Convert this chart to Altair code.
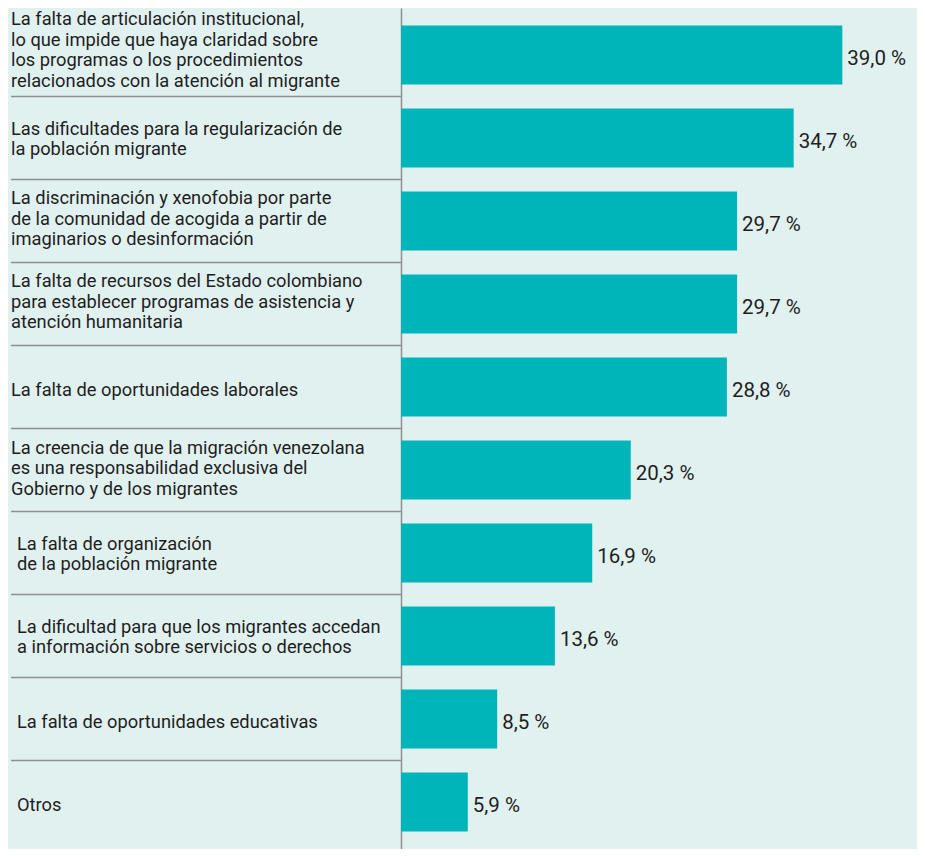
import altair as alt
import pandas as pd

labels = [
    "La falta de articulación institucional,\nlo que impide que haya claridad sobre\nlos programas o los procedimientos\nrelacionados con la atención al migrante",
    "Las dificultades para la regularización de\nla población migrante",
    "La discriminación y xenofobia por parte\nde la comunidad de acogida a partir de\nimaginarios o desinformación",
    "La falta de recursos del Estado colombiano\npara establecer programas de asistencia y\natención humanitaria",
    "La falta de oportunidades laborales",
    "La creencia de que la migración venezolana\nes una responsabilidad exclusiva del\nGobierno y de los migrantes",
    "La falta de organización\nde la población migrante",
    "La dificultad para que los migrantes accedan\na información sobre servicios o derechos",
    "La falta de oportunidades educativas",
    "Otros",
]
values = [39.0, 34.7, 29.7, 29.7, 28.8, 20.3, 16.9, 13.6, 8.5, 5.9]
value_text = ["39,0 %", "34,7 %", "29,7 %", "29,7 %", "28,8 %", "20,3 %", "16,9 %", "13,6 %", "8,5 %", "5,9 %"]
row_ids = [f"r{i}" for i in range(len(labels))]

df = pd.DataFrame({
    "row": row_ids,
    "label": labels,
    "value": values,
    "vtext": value_text,
    "idx": list(range(len(labels))),
    "nlines": [len(s.split("\n")) for s in labels],
})

FONT = "Roboto"
BG = "#e1f1f0"
BAR = "#00b5b9"
TXT = "#1e1e1e"
SEP = "#8c9090"
LH = 20.5

y_scale = alt.Scale(domain=row_ids, paddingInner=0, paddingOuter=0.066)
x_scale = alt.Scale(domain=[0, 45.6], nice=False, zero=True)

base = alt.Chart(df)

bars = base.mark_bar(color=BAR, height={"band": 59 / 83}).encode(
    y=alt.Y("row:N", scale=y_scale, sort=row_ids,
            axis=alt.Axis(labels=False, ticks=False, title=None, grid=False,
                          domainColor=SEP, domainWidth=1.5)),
    x=alt.X("value:Q", scale=x_scale, axis=None),
)

vals = base.mark_text(align="left", baseline="middle", dx=5, dy=4,
                      font=FONT, fontSize=20.5, fontWeight=400, color=TXT).encode(
    y=alt.Y("row:N", scale=y_scale, sort=row_ids),
    x=alt.X("value:Q", scale=x_scale),
    text="vtext:N",
)

# vertical offset of each text block relative to band centre, by number of lines
block_shift = {1: 4, 2: 2, 3: -1, 4: -4}

label_layers = []
for n, shift in block_shift.items():
    for indented, xpos in ((False, -390), (True, -384)):
        cond = (alt.datum.nlines == n) & ((alt.datum.idx >= 6) if indented else (alt.datum.idx < 6))
        layer = base.transform_filter(cond).mark_text(
            align="left", baseline="middle", lineBreak="\n", lineHeight=LH,
            dy=-(n - 1) / 2 * LH + shift,
            font=FONT, fontSize=18.3, fontWeight=400, color=TXT).encode(
            y=alt.Y("row:N", scale=y_scale, sort=row_ids),
            x=alt.value(xpos),
            text="label:N",
        )
        label_layers.append(layer)

seps = base.transform_filter(alt.datum.idx < 9).mark_rule(
    color=SEP, strokeWidth=1.5).encode(
    y=alt.Y("row:N", scale=y_scale, sort=row_ids, bandPosition=1),
    x=alt.value(-390),
    x2=alt.value(0),
)

chart = alt.layer(seps, bars, vals, *label_layers).properties(
    width=516,
    height=841,
    background=BG,
    padding={"left": 393, "top": 0, "right": 0, "bottom": 0},
    autosize=alt.AutoSizeParams(type="none"),
).configure_view(stroke=None)

chart.save("out.html", embed_options={"renderer": "svg", "actions": False})
